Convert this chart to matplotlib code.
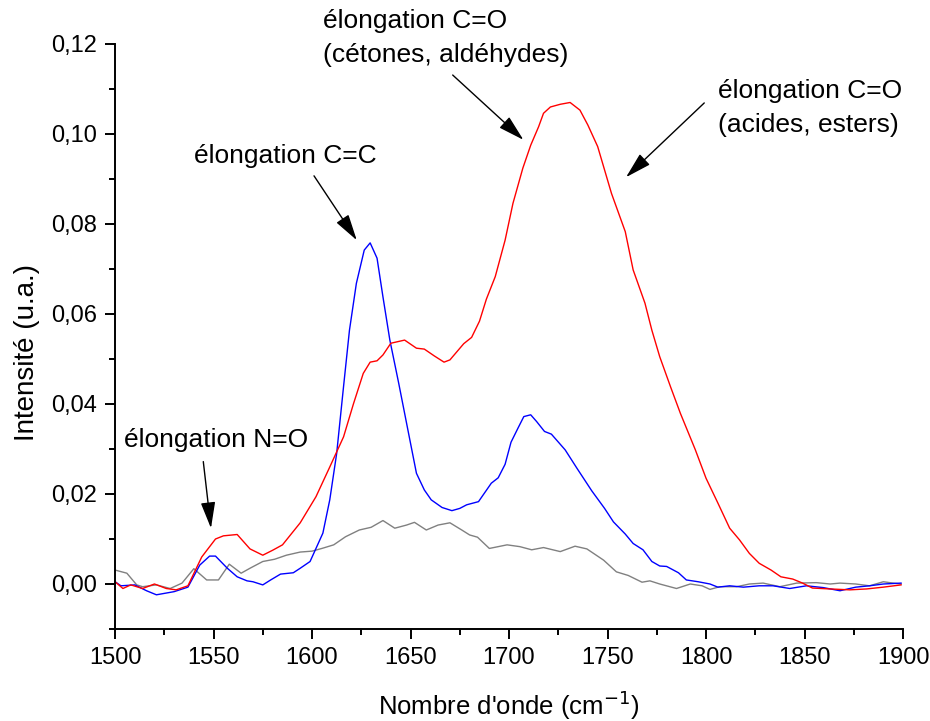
import matplotlib
matplotlib.use("Agg")
import matplotlib.pyplot as plt
from matplotlib.ticker import MultipleLocator, FuncFormatter

plt.rcParams["font.family"] = ["Liberation Sans", "DejaVu Sans"]

# red spectrum
red_x = [1500, 1504, 1508, 1514, 1520, 1526, 1531, 1537, 1544, 1551, 1555, 1562, 1568.5, 1575,
         1580, 1585, 1594, 1602, 1609, 1616, 1621, 1626, 1629.5, 1633, 1636, 1640, 1647, 1653,
         1657, 1662, 1667, 1670, 1677, 1681, 1685, 1688.5, 1693, 1698, 1702, 1707, 1711, 1715,
         1717.5, 1721, 1726, 1731, 1736, 1740, 1745, 1752, 1759, 1763, 1769, 1772.5, 1776.5,
         1782, 1787, 1794.5, 1800, 1806, 1812, 1817, 1822, 1827, 1833, 1838, 1844, 1849, 1854,
         1863, 1873, 1881.5, 1890, 1899]
red_y = [0.0005, -0.001, -0.0002, -0.001, 0.0, -0.001, -0.0013, -0.0004, 0.006, 0.010, 0.0107,
         0.011, 0.0078, 0.0064, 0.0075, 0.0087, 0.0136, 0.0194, 0.026, 0.0327, 0.040, 0.0468,
         0.0493, 0.0496, 0.0509, 0.0535, 0.0542, 0.0524, 0.0522, 0.0507, 0.0493, 0.0498, 0.0534,
         0.0548, 0.0584, 0.0633, 0.0683, 0.0764, 0.0846, 0.0924, 0.0975, 0.1016, 0.1046, 0.106,
         0.1066, 0.107, 0.1053, 0.102, 0.0972, 0.0868, 0.0783, 0.0698, 0.0624, 0.0564, 0.0505,
         0.0438, 0.0379, 0.0299, 0.0235, 0.018, 0.0124, 0.0098, 0.0068, 0.0046, 0.0031, 0.0016,
         0.0011, 0.0002, -0.0009, -0.0011, -0.0013, -0.0011, -0.0007, -0.0002]

# blue spectrum
blue_x = [1500, 1503, 1510, 1516, 1521, 1530, 1537, 1543, 1548, 1551, 1557, 1562, 1567, 1570,
          1575, 1579, 1584, 1590.5, 1594, 1599, 1602, 1605.5, 1609, 1612.5, 1616, 1619, 1622.5,
          1626.5, 1629.5, 1633, 1636, 1639.5, 1644, 1648, 1653, 1657, 1660.5, 1666, 1671, 1675,
          1678.5, 1684.5, 1691, 1694.5, 1698, 1701, 1704.5, 1707.5, 1711, 1714, 1718, 1721.5,
          1728.5, 1734.5, 1742, 1748.5, 1753, 1759, 1763, 1768, 1772.5, 1776.5, 1780, 1786, 1790,
          1796, 1802, 1806, 1812, 1819, 1827, 1834, 1842.5, 1851, 1859.5, 1868, 1876, 1883, 1890,
          1899]
blue_y = [0.0005, -0.0004, -0.0002, -0.0015, -0.0024, -0.0017, -0.0007, 0.0042, 0.0062, 0.0062,
          0.0035, 0.0016, 0.0007, 0.0005, -0.0002, 0.0009, 0.0022, 0.0025, 0.0035, 0.005, 0.0079,
          0.0113, 0.0187, 0.029, 0.0439, 0.0564, 0.0668, 0.0742, 0.0758, 0.0724, 0.0638, 0.0542,
          0.0446, 0.0357, 0.0246, 0.0209, 0.0187, 0.017, 0.0163, 0.0168, 0.0176, 0.0183, 0.0224,
          0.0236, 0.0266, 0.0315, 0.0346, 0.0372, 0.0376, 0.0361, 0.0339, 0.0333, 0.0298, 0.0257,
          0.0207, 0.0168, 0.0138, 0.0111, 0.009, 0.0076, 0.005, 0.004, 0.0039, 0.0025, 0.0009,
          0.0005, 0.0, -0.0007, -0.0004, -0.0007, -0.0004, -0.0004, -0.001, -0.0004, -0.0008,
          -0.0015, -0.0007, -0.0004, 0.0, 0.0002]

# grey spectrum
grey_x = [1500, 1506, 1511, 1514, 1521, 1528, 1534, 1540, 1546.5, 1552.5, 1558, 1564, 1568.5,
          1575, 1581, 1587, 1594, 1600, 1605, 1611, 1617, 1624, 1630, 1636, 1642, 1648, 1652,
          1658, 1664, 1670, 1676, 1680, 1684, 1690, 1699, 1705.5, 1711.5, 1717.5, 1726, 1733.5,
          1739.5, 1748, 1754.5, 1760.5, 1767.5, 1771.5, 1776.5, 1785, 1792, 1798, 1802, 1807,
          1815.5, 1822, 1829, 1837.5, 1846, 1856, 1863, 1868, 1876, 1883, 1890, 1895, 1899]
grey_y = [0.0031, 0.0024, -0.0002, -0.0006, -0.0002, -0.001, 0.0002, 0.0034, 0.0009, 0.0009,
          0.0044, 0.0024, 0.0035, 0.005, 0.0055, 0.0064, 0.0071, 0.0073, 0.0079, 0.0087, 0.0105,
          0.012, 0.0126, 0.0141, 0.0124, 0.0131, 0.0137, 0.012, 0.0131, 0.0136, 0.012, 0.0109,
          0.0104, 0.0079, 0.0087, 0.0083, 0.0076, 0.0081, 0.0072, 0.0084, 0.0078, 0.0053, 0.0027,
          0.0019, 0.0004, 0.0007, 0.0, -0.001, 0.0, -0.0004, -0.0012, -0.0006, -0.0006, 0.0,
          0.0002, -0.0006, 0.0002, 0.0003, 0.0, 0.0002, 0.0, -0.0004, 0.0005, 0.0002, 0.0]

# annotations: text lines (x, baseline y) and arrows (tail -> head)
notes = [
    (["élongation N=O"], 1504.6, [0.0305]),
    (["élongation C=C"], 1540.1, [0.0935]),
    (["élongation C=O", "(cétones, aldéhydes)"], 1605.4, [0.1236, 0.1161]),
    (["élongation C=O", "(acides, esters)"], 1806.2, [0.1079, 0.1005]),
]
arrows = [
    ((1544.8, 0.0272), (1548.7, 0.0124)),
    ((1601.0, 0.0907), (1622.7, 0.0764)),
    ((1671.4, 0.1131), (1707.3, 0.0987)),
    ((1799.1, 0.1069), (1759.4, 0.0904)),
]

fig = plt.figure(figsize=(9.3, 7.21), dpi=100)
ax = fig.add_axes([0.1237, 0.1276, 0.8473, 0.8114])

ax.plot(grey_x, grey_y, color="#808080", lw=1.0)
ax.plot(blue_x, blue_y, color="#0000ff", lw=1.0)
ax.plot(red_x, red_y, color="#ff0000", lw=1.0)

ax.set_xlim(1500, 1900)
ax.set_ylim(-0.01, 0.12)

for s in ("top", "right"):
    ax.spines[s].set_visible(False)
for s in ("left", "bottom"):
    ax.spines[s].set_linewidth(1.4)

ax.xaxis.set_major_locator(MultipleLocator(50))
ax.xaxis.set_minor_locator(MultipleLocator(25))
ax.yaxis.set_major_locator(MultipleLocator(0.02))
ax.yaxis.set_minor_locator(MultipleLocator(0.01))
ax.yaxis.set_major_formatter(FuncFormatter(lambda v, p: f"{v:.2f}".replace(".", ",")))
ax.tick_params(which="major", direction="out", length=7, width=1.4, labelsize=17, pad=6)
ax.tick_params(which="minor", direction="out", length=4, width=1.4)

ax.set_xlabel("Nombre d'onde (cm$^{-1}$)", fontsize=18.5, labelpad=14)
ax.set_ylabel("Intensité (u.a.)", fontsize=20)
ax.yaxis.set_label_coords(-0.095, 0.473)

for lines, x, ys in notes:
    for line, y in zip(lines, ys):
        ax.text(x, y, line, fontsize=19, ha="left", va="baseline", clip_on=False)

for tail, head in arrows:
    ax.annotate("", xy=head, xytext=tail, annotation_clip=False,
                arrowprops=dict(arrowstyle="-|>,head_length=0.9,head_width=0.25",
                                color="black", lw=1.0, mutation_scale=18,
                                shrinkA=0, shrinkB=0))

fig.savefig("out.png", dpi=100)
